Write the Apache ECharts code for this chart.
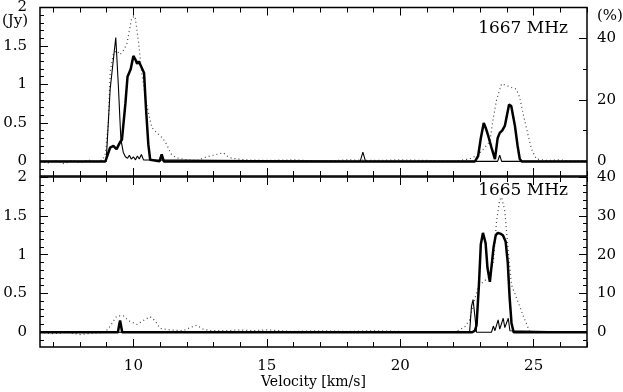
<!DOCTYPE html>
<html>
<head>
<meta charset="utf-8">
<script src="https://cdn.jsdelivr.net/npm/echarts@6/dist/echarts.min.js"></script>
<style>
html, body { margin: 0; padding: 0; background: #fff; }
#chart { width: 623px; height: 392px; }
</style>
</head>
<body>
<div id="chart"></div>
<script>
// axis ranges and ticks
const velMin = 6.5
const velMax = 27
const velMajor = [10, 15, 20, 25]
const velMinor = [7, 8, 9, 10, 11, 12, 13, 14, 15, 16, 17, 18, 19, 20, 21, 22, 23, 24, 25, 26, 27]
const jyMin = -0.19
const jyMax = 2
const jyMajor = [0, 0.5, 1, 1.5, 2]
const jyMinor = [-0.1, 0, 0.1, 0.2, 0.3, 0.4, 0.5, 0.6, 0.7, 0.8, 0.9, 1, 1.1, 1.2, 1.3, 1.4, 1.5, 1.6, 1.7, 1.8, 1.9, 2]
const pctTopMajor = [0, 20, 40]
const pctTopMinor = [0, 10, 20, 30, 40]
const pctBotMajor = [0, 10, 20, 30, 40]
const pctBotMinor = [-2, 0, 2, 4, 6, 8, 10, 12, 14, 16, 18, 20, 22, 24, 26, 28, 30, 32, 34, 36, 38, 40]

// 1667 MHz panel
const thick1667V = [6.5, 8.95, 9.13, 9.25, 9.37, 9.5, 9.57, 9.7, 9.78, 9.9, 10.0, 10.08, 10.14, 10.2, 10.27, 10.4, 10.47, 10.56, 10.63, 10.7, 10.98, 11.06, 11.14, 22.8, 22.92, 23.02, 23.13, 23.22, 23.3, 23.42, 23.55, 23.65, 23.73, 23.82, 23.92, 24.0, 24.08, 24.16, 24.3, 24.4, 24.48, 24.55, 27]
const thick1667 = [0, 0, 0.18, 0.2, 0.16, 0.25, 0.28, 0.75, 1.1, 1.2, 1.37, 1.32, 1.27, 1.3, 1.25, 1.15, 0.7, 0.22, 0.02, 0, 0, 0.09, 0, 0, 0.07, 0.3, 0.5, 0.42, 0.33, 0.18, 0.03, 0.3, 0.37, 0.4, 0.46, 0.6, 0.74, 0.72, 0.46, 0.2, 0.03, 0, 0]
const thin1667V = [6.5, 8.98, 9.13, 9.34, 9.44, 9.53, 9.62, 9.7, 9.78, 9.85, 9.92, 10.0, 10.08, 10.15, 10.22, 10.3, 10.38, 10.45, 18.5, 18.6, 18.7, 23.65, 23.73, 23.8, 27]
const thin1667 = [0, 0, 0.94, 1.61, 0.96, 0.29, 0.12, 0.06, 0.04, 0.08, 0.03, 0.06, 0.02, 0.07, 0.03, 0.09, 0.02, 0, 0, 0.12, 0, 0, 0.08, 0, 0]
const pol1667V = [6.5, 6.8, 7.1, 7.4, 7.7, 8.0, 8.3, 8.6, 8.85, 8.95, 9.06, 9.13, 9.25, 9.38, 9.5, 9.62, 9.75, 9.85, 9.94, 10.06, 10.19, 10.31, 10.45, 10.56, 10.69, 10.94, 11.1, 11.25, 11.4, 11.6, 12.0, 12.4, 12.75, 13.0, 13.37, 13.55, 13.7, 14.2, 15.0, 16.0, 17.0, 18.0, 19.0, 20.0, 21.0, 22.0, 22.6, 22.9, 23.11, 23.36, 23.48, 23.61, 23.8, 23.98, 24.17, 24.35, 24.48, 24.6, 24.8, 24.92, 25.1, 25.5, 26.0, 26.5, 27]
const pol1667 = [0, -0.5, 0.3, -0.8, 0.3, -0.5, 0.5, -0.3, 0.5, 2.5, 12.5, 29, 35, 36, 34.7, 36, 38, 42.5, 46.7, 47.2, 39, 29, 21, 16, 11, 8.8, 7.5, 5.5, 2.5, 1.2, 0.5, 0.3, 1.5, 2, 2.8, 1.5, 1, 0.5, 0.3, 0.5, 0, 0.5, 0.3, 0.5, 0.3, 0, 0.8, 2, 4, 6.5, 13.7, 20, 25.2, 24.7, 24, 23.5, 20.7, 15.7, 8.2, 4, 0.8, 0.3, 0.5, 0, 0.3]

// 1665 MHz panel
const thick1665V = [6.5, 9.42, 9.47, 9.5, 9.53, 9.58, 22.7, 22.8, 22.86, 22.95, 23.02, 23.1, 23.15, 23.2, 23.27, 23.36, 23.42, 23.5, 23.58, 23.66, 23.75, 23.85, 23.95, 24.03, 24.1, 24.17, 24.25, 27]
const thick1665 = [0, 0, 0.1, 0.15, 0.1, 0, 0, 0.02, 0.09, 0.61, 1.13, 1.28, 1.27, 1.15, 0.83, 0.65, 0.67, 1.1, 1.25, 1.28, 1.27, 1.25, 1.17, 0.9, 0.45, 0.12, 0, 0]
const thin1665V = [6.5, 22.6, 22.67, 22.73, 22.8, 22.86, 23.42, 23.49, 23.55, 23.67, 23.73, 23.86, 23.92, 24.05, 24.11, 27]
const thin1665 = [0, 0, 0.33, 0.42, 0.2, 0, 0, 0.08, 0.02, 0.16, 0.04, 0.18, 0.06, 0.18, 0.02, 0]
const pol1665V = [6.5, 7.0, 7.5, 8.0, 8.5, 8.94, 9.13, 9.38, 9.63, 9.81, 10.13, 10.37, 10.63, 10.81, 11.0, 11.37, 11.87, 12.12, 12.37, 12.62, 12.87, 13.5, 14.0, 14.5, 15.0, 16.0, 17.0, 18.0, 19.0, 20.0, 21.0, 21.5, 22.05, 22.42, 22.6, 22.8, 22.95, 23.11, 23.3, 23.49, 23.61, 23.73, 23.8, 23.92, 24.05, 24.17, 24.36, 24.6, 24.86, 25.3, 26.0, 27]
const pol1665 = [0, -0.4, 0, -0.6, -0.2, 0, 1.6, 4.2, 4.2, 3, 2, 3, 4, 3, 1, 0.6, 0.4, 1.2, 1.8, 0.8, 0.4, 0.4, 0.6, 0.4, 0.6, 0.2, 0.4, 0.2, 0.4, 0.2, 0, 0.2, 0, 1.4, 3.2, 8.8, 12, 13, 14, 18.2, 28.6, 34.2, 34.8, 31.2, 20.8, 12.2, 8.8, 4.4, 0, 0.2, 0, 0.2]

const font = 'DejaVu Serif'
const zip = (xs, ys) => xs.map((x, i) => [x, ys[i]])

const tick = (values, len) => ({
    show: true, inside: true, length: len, customValues: values,
    lineStyle: { color: '#000', width: 1 }
})

const xAx = (grid, pos, values, len, labels) => ({
    type: 'value', gridIndex: grid, position: pos, min: velMin, max: velMax,
    axisLine: { show: false, onZero: false },
    splitLine: { show: false },
    axisTick: tick(values, len),
    axisLabel: labels
        ? { show: true, customValues: values, margin: 12, color: '#000', fontFamily: font, fontSize: 15 }
        : { show: false }
})

const yAx = (grid, pos, min, max, values, len, labels) => ({
    type: 'value', gridIndex: grid, position: pos, min: min, max: max,
    axisLine: { show: false, onZero: false },
    splitLine: { show: false },
    axisTick: tick(values, len),
    axisLabel: labels
        ? { show: true, customValues: values, margin: pos === 'left' ? 13 : 10, color: '#000', fontFamily: font, fontSize: 15 }
        : { show: false }
})

const xAxes = []
const yAxes = []
for (let g = 0; g < 2; g++) {
    xAxes.push(xAx(g, 'bottom', velMajor, 8, g === 1))
    xAxes.push(xAx(g, 'bottom', velMinor, 5, false))
    xAxes.push(xAx(g, 'top', velMajor, 8, false))
    xAxes.push(xAx(g, 'top', velMinor, 5, false))
}
xAxes[4].name = 'Velocity [km/s]'
xAxes[4].nameLocation = 'middle'
xAxes[4].nameGap = 25
xAxes[4].nameTextStyle = { color: '#000', fontFamily: font, fontSize: 14 }

const pctTop = 25 // % per Jy in the upper panel
const pctBot = 20
yAxes.push(yAx(0, 'left', jyMin, jyMax, jyMajor, 8, true))
yAxes.push(yAx(0, 'left', jyMin, jyMax, jyMinor, 4, false))
yAxes.push(yAx(0, 'right', jyMin * pctTop, jyMax * pctTop, pctTopMajor, 8, true))
yAxes.push(yAx(0, 'right', jyMin * pctTop, jyMax * pctTop, pctTopMinor, 4, false))
yAxes.push(yAx(1, 'left', jyMin, jyMax, jyMajor, 8, true))
yAxes.push(yAx(1, 'left', jyMin, jyMax, jyMinor, 4, false))
yAxes.push(yAx(1, 'right', jyMin * pctBot, jyMax * pctBot, pctBotMajor, 8, true))
yAxes.push(yAx(1, 'right', jyMin * pctBot, jyMax * pctBot, pctBotMinor, 4, false))

const line = (data, xi, yi, width, type, color) => ({
    type: 'line', data: data, xAxisIndex: xi, yAxisIndex: yi,
    showSymbol: false, symbol: 'none', animation: false, silent: true,
    lineStyle: { width: width, type: type, color: color }
})

const chart = echarts.init(document.getElementById('chart'), null, { renderer: 'canvas' })
chart.setOption({
    animation: false,
    backgroundColor: '#fff',
    grid: [
        { left: 40, right: 36, top: 7, height: 169, show: true, borderColor: '#000', borderWidth: 1.5 },
        { left: 40, right: 36, top: 177, height: 170, show: true, borderColor: '#000', borderWidth: 1.5 }
    ],
    xAxis: xAxes,
    yAxis: yAxes,
    title: [
        { text: '(Jy)', left: 2, top: 14, padding: 0, textStyle: { fontFamily: font, fontSize: 15, fontWeight: 'normal', color: '#000' } },
        { text: '(%)', left: 597, top: 9, padding: 0, textStyle: { fontFamily: font, fontSize: 15, fontWeight: 'normal', color: '#000' } },
        { text: '1667 MHz', right: 55, top: 20, padding: 0, textStyle: { fontFamily: font, fontSize: 17, fontWeight: 'normal', color: '#000' } },
        { text: '1665 MHz', right: 55, top: 182, padding: 0, textStyle: { fontFamily: font, fontSize: 17, fontWeight: 'normal', color: '#000' } }
    ],
    series: [
        line(zip(pol1667V, pol1667), 0, 2, 1.2, [1, 3], '#444'),
        line(zip(thin1667V, thin1667), 0, 0, 1.1, 'solid', '#000'),
        line(zip(thick1667V, thick1667), 0, 0, 2.5, 'solid', '#000'),
        line(zip(pol1665V, pol1665), 4, 6, 1.2, [1, 3], '#444'),
        line(zip(thin1665V, thin1665), 4, 4, 1.1, 'solid', '#000'),
        line(zip(thick1665V, thick1665), 4, 4, 2.5, 'solid', '#000')
    ]
})
</script>
</body>
</html>
